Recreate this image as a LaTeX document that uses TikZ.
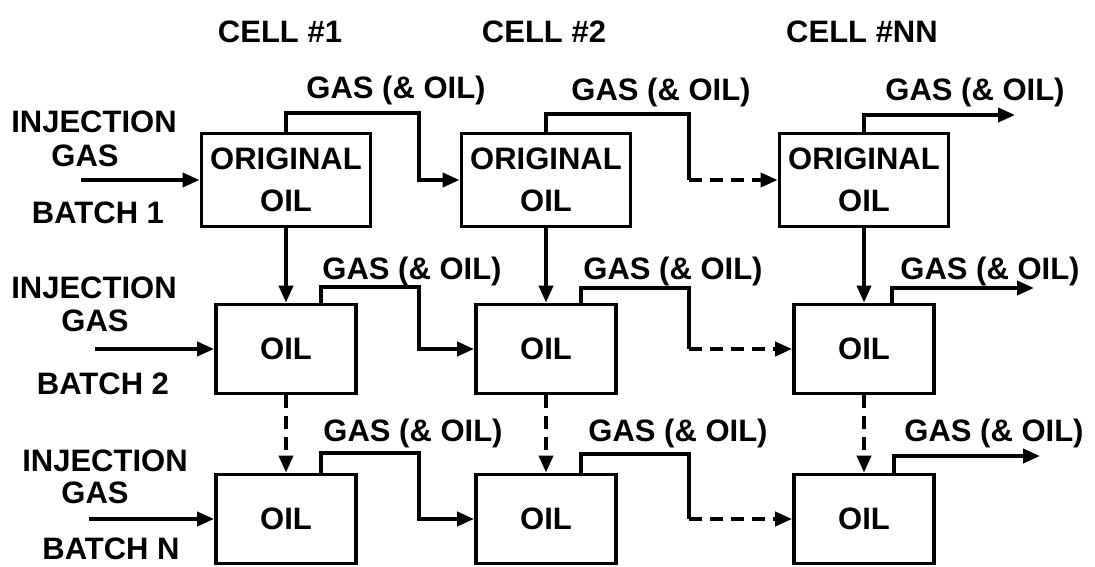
\documentclass[tikz,border=0pt]{standalone}
\usepackage{fontspec}
\setmainfont{Liberation Sans}
\usetikzlibrary{arrows.meta}
\newcommand\dfont{\fontsize{31}{42}\selectfont\bfseries}
\begin{document}
\begin{tikzpicture}[x=1pt,y=-1pt,line width=3.8pt,
  box/.style={draw,line width=3.8pt,inner sep=0pt,align=center,font=\dfont},
  bigbox/.style={box,minimum width=169pt,minimum height=93pt},
  smallbox/.style={box,minimum width=140pt,minimum height=89pt},
  txt/.style={anchor=base,inner sep=0pt,font=\dfont},
  flow/.style={-{Triangle[length=17pt,width=14pt]}},
  dsh/.style={dash pattern=on 13pt off 8pt}]
\useasboundingbox (0,0) rectangle (1095,567);

% column headers
\node[txt] (h1) at (280,43) {CELL \#1};
\node[txt] (h2) at (544,43) {CELL \#2};
\node[txt] (h3) at (862,43) {CELL \#NN};

% boxes
\node[bigbox] (b11) at (286,180) {ORIGINAL\\OIL};
\node[bigbox] (b12) at (546,180) {ORIGINAL\\OIL};
\node[bigbox] (b13) at (864,180) {ORIGINAL\\OIL};
\node[smallbox] (b21) at (286,349) {OIL};
\node[smallbox] (b22) at (546,349) {OIL};
\node[smallbox] (b23) at (864,349) {OIL};
\node[smallbox] (b31) at (286,519) {OIL};
\node[smallbox] (b32) at (546,519) {OIL};
\node[smallbox] (b33) at (864,519) {OIL};

% injection labels
\node[txt] (i1a) at (94,133) {INJECTION};
\node[txt] (i1b) at (85,166) {GAS};
\node[txt] (i1c) at (98,223) {BATCH 1};
\node[txt] (i2a) at (94,298) {INJECTION};
\node[txt] (i2b) at (95,331) {GAS};
\node[txt] (i2c) at (103,394) {BATCH 2};
\node[txt] (i3a) at (105,471) {INJECTION};
\node[txt] (i3b) at (95,503) {GAS};
\node[txt] (i3c) at (111,559) {BATCH N};

% injection arrows
\coordinate (s1) at (81,180);
\coordinate (s2) at (95,349);
\coordinate (s3) at (89,519);
\draw[flow] (s1) -- (b11.west);
\draw[flow] (s2) -- (b21.west);
\draw[flow] (s3) -- (b31.west);

% gas labels
\node[txt] (g11) at (396,99) {GAS (\& OIL)};
\node[txt] (g12) at (661,101) {GAS (\& OIL)};
\node[txt] (g13) at (975,101) {GAS (\& OIL)};
\node[txt] (g21) at (412,279) {GAS (\& OIL)};
\node[txt] (g22) at (673,279) {GAS (\& OIL)};
\node[txt] (g23) at (990,279) {GAS (\& OIL)};
\node[txt] (g31) at (413,441) {GAS (\& OIL)};
\node[txt] (g32) at (678,441) {GAS (\& OIL)};
\node[txt] (g33) at (994,441) {GAS (\& OIL)};

% bend points
\coordinate (k11) at (419,113);
\coordinate (k12) at (689,114);
\coordinate (e13) at (1015,115);
\coordinate (k21) at (419,287);
\coordinate (k22) at (689,288);
\coordinate (e23) at (1034,288);
\coordinate (k31) at (419,453);
\coordinate (k32) at (689,454);
\coordinate (e33) at (1040,456);

% row 1 gas lines
\draw[flow] (b11.north) |- (k11) |- (b12.west);
\draw (b12.north) |- (k12) -- (k12 |- b13.west);
\draw[flow,dsh] (k12 |- b13.west) -- (b13.west);
\draw[flow] (b13.north) |- (e13);

% row 2 gas lines
\draw[flow] ([xshift=35pt]b21.north) |- (k21) |- (b22.west);
\draw ([xshift=35pt]b22.north) |- (k22) -- (k22 |- b23.west);
\draw[flow,dsh] (k22 |- b23.west) -- (b23.west);
\draw[flow] ([xshift=28pt]b23.north) |- (e23);

% row 3 gas lines
\draw[flow] ([xshift=35pt]b31.north) |- (k31) |- (b32.west);
\draw ([xshift=35pt]b32.north) |- (k32) -- (k32 |- b33.west);
\draw[flow,dsh] (k32 |- b33.west) -- (b33.west);
\draw[flow] ([xshift=30pt]b33.north) |- (e33);

% vertical oil flows
\draw[flow] (b11.south) -- (b21.north);
\draw[flow] (b12.south) -- (b22.north);
\draw[flow] (b13.south) -- (b23.north);
\draw[flow,dsh] (b21.south) -- (b31.north);
\draw[flow,dsh] (b22.south) -- (b32.north);
\draw[flow,dsh] (b23.south) -- (b33.north);
\end{tikzpicture}
\end{document}
